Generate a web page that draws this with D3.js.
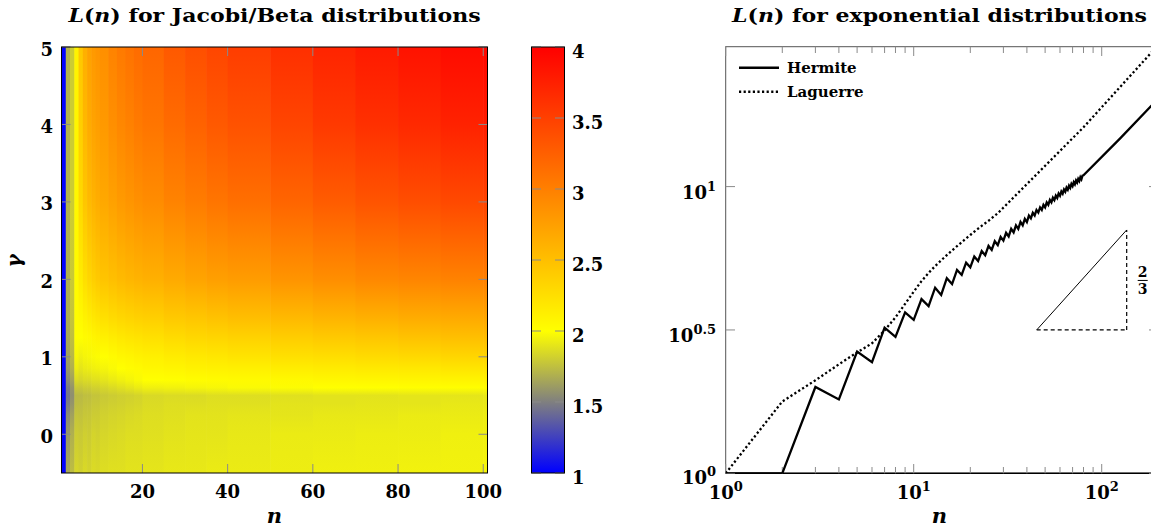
<!DOCTYPE html>
<html><head><meta charset="utf-8">
<script src="https://cdn.jsdelivr.net/npm/d3@7"></script>
<style>
body{margin:0;background:#fff}
svg{display:block}
text{font-family:"DejaVu Serif",serif;font-weight:bold;fill:#000}
</style>
</head><body>
<svg id="chart" width="1151" height="531"></svg>
<script>
// ---------- data: heatmap L(n) for Jacobi/Beta ----------
const heatN = [1,2,3,4,5,6,7,8,9,10,12,14,16,18,20,25,30,35,40,50,60,70,80,90,100];
const heatNEnd = 101;
const heatGamma = [-0.5,0,0.25,0.4,0.5,0.6,0.7,0.85,1,1.25,1.5,2,3,4,5];
const heatL = [
  [1,1,1,1,1,1,1,1,1,1,1,1,1,1,1],
  [1.66,1.6,1.54,1.48,1.46,1.48,1.54,1.6,1.63,1.66,1.68,1.69,1.7,1.7,1.7],
  [1.74,1.69,1.63,1.58,1.56,1.58,1.63,1.69,1.72,1.75,1.77,1.79,1.8,1.8,1.8],
  [1.84,1.8,1.77,1.74,1.73,1.79,1.86,1.93,1.97,2.0,2.02,2.04,2.06,2.08,2.1],
  [1.82,1.79,1.76,1.74,1.73,1.78,1.84,1.9,1.94,2.0,2.05,2.15,2.3,2.38,2.44],
  [1.85,1.81,1.78,1.76,1.75,1.8,1.86,1.92,1.96,2.03,2.1,2.25,2.45,2.56,2.63],
  [1.83,1.8,1.78,1.76,1.75,1.8,1.86,1.93,1.97,2.05,2.14,2.32,2.54,2.66,2.74],
  [1.86,1.83,1.8,1.78,1.77,1.82,1.88,1.94,1.98,2.08,2.18,2.38,2.6,2.72,2.8],
  [1.85,1.82,1.8,1.78,1.77,1.82,1.88,1.95,1.99,2.1,2.21,2.42,2.64,2.76,2.84],
  [1.87,1.84,1.82,1.8,1.79,1.84,1.9,1.96,2.0,2.12,2.24,2.46,2.68,2.8,2.88],
  [1.88,1.85,1.83,1.81,1.8,1.86,1.92,1.98,2.03,2.15,2.28,2.5,2.74,2.88,2.97],
  [1.88,1.86,1.84,1.82,1.81,1.88,1.94,2.0,2.06,2.18,2.31,2.54,2.79,2.94,3.04],
  [1.89,1.87,1.85,1.83,1.82,1.9,1.96,2.02,2.08,2.2,2.34,2.57,2.83,2.99,3.1],
  [1.89,1.87,1.86,1.84,1.83,1.92,1.98,2.04,2.1,2.22,2.36,2.6,2.87,3.04,3.15],
  [1.9,1.88,1.87,1.86,1.85,1.94,2.0,2.06,2.12,2.24,2.38,2.62,2.9,3.08,3.2],
  [1.91,1.89,1.88,1.87,1.86,1.95,2.01,2.08,2.15,2.28,2.42,2.67,2.97,3.16,3.3],
  [1.91,1.9,1.89,1.87,1.86,1.96,2.02,2.1,2.17,2.31,2.45,2.71,3.03,3.23,3.38],
  [1.92,1.9,1.89,1.88,1.87,1.97,2.03,2.11,2.19,2.33,2.48,2.75,3.08,3.3,3.45],
  [1.92,1.91,1.9,1.88,1.87,1.98,2.04,2.12,2.21,2.35,2.51,2.78,3.13,3.36,3.52],
  [1.93,1.92,1.9,1.89,1.88,1.99,2.05,2.14,2.24,2.39,2.55,2.84,3.21,3.46,3.63],
  [1.94,1.92,1.91,1.89,1.89,2.0,2.06,2.16,2.26,2.42,2.59,2.89,3.28,3.55,3.72],
  [1.94,1.93,1.91,1.9,1.89,2.0,2.07,2.17,2.28,2.45,2.62,2.93,3.34,3.62,3.8],
  [1.95,1.93,1.92,1.9,1.9,2.01,2.08,2.18,2.3,2.48,2.65,2.96,3.39,3.68,3.86],
  [1.95,1.94,1.92,1.91,1.9,2.01,2.09,2.2,2.32,2.5,2.67,2.98,3.43,3.73,3.91],
  [1.96,1.94,1.93,1.91,1.91,2.02,2.1,2.21,2.34,2.52,2.69,3.0,3.47,3.77,3.95]
];
const heatXTicks = [20,40,60,80,100];
const heatYTicks = [0,1,2,3,4,5];
const colorTicks = [1,1.5,2,2.5,3,3.5,4];
const colorStops = [1,2,4];
const colorStopColors = ["#0000ff","#ffff00","#ff0000"];

// ---------- data: L(n) for exponential distributions ----------
const hermiteN = [1,2,3,4,5,6,7,8,9,10,11,12,13,14,15,16,17,18,19,20,21,22,23,24,25,26,27,28,29,30,
  31,32,33,34,35,36,37,38,39,40,41,42,43,44,45,46,47,48,49,50,51,52,53,54,55,56,57,58,59,60,
  61,62,63,64,65,66,67,68,69,70,71,72,73,74,75,76,77,78,79,80,125,200];
const hermiteL = [1.0,1.0,2.0,1.81,2.66,2.44,3.22,2.99,3.64,3.43,4.05,3.83,4.44,4.19,4.79,4.57,5.12,4.92,5.43,5.23,
  5.70,5.50,5.96,5.76,6.21,6.01,6.45,6.25,6.68,6.48,6.90,6.70,7.12,6.92,7.32,7.12,7.53,7.33,7.72,7.52,
  7.92,7.75,8.10,7.93,8.29,8.12,8.46,8.29,8.64,8.47,8.81,8.64,8.98,8.81,9.14,8.97,9.30,9.13,9.46,9.29,
  9.62,9.45,9.77,9.60,9.92,9.75,10.07,9.90,10.22,10.05,10.36,10.19,10.50,10.33,10.64,10.47,10.78,10.61,10.92,10.95,14.7,20.3];
const laguerreN = [1,2,3,4,5,6,7,8,9,10,11,12,13,14,15,16,17,18,19,20,21,22,23,24,25,26,27,28,80,200];
const laguerreL = [1.0,1.78,2.11,2.4,2.64,2.84,3.15,3.5,3.9,4.3,4.68,5.0,5.28,5.53,5.77,5.99,6.2,6.4,6.6,6.78,
  6.96,7.13,7.3,7.45,7.6,7.76,7.92,8.07,16.1,31.2];
const seriesNames = ["Hermite","Laguerre"];
const logXMajor = [1,10,100];
const logXMinor = [2,3,4,5,6,7,8,9,20,30,40,50,60,70,80,90];
const logYTicks = [1,3.1623,10];
const logYTickExp = ["0","0.5","1"];
const slopeN = [45.1,135.8];
const slopeL = [3.1623,7.06];

const svg = d3.select("#chart");
const defs = svg.append("defs");
const TICK = "#8a8a8a";
const FS = 18;

function title(g, cx, parts){
  const t = g.append("text").attr("transform",`translate(${cx},22) scale(1.16,1)`)
    .attr("text-anchor","middle").attr("font-size",19);
  t.append("tspan").attr("font-style","italic").text("L");
  t.append("tspan").text("(");
  t.append("tspan").attr("font-style","italic").text("n");
  t.append("tspan").text(parts);
}

// ================= LEFT: heatmap =================
const hx = d3.scaleLinear().domain([1,101]).range([61.5,487.5]);
const hy = d3.scaleLinear().domain([-0.5,5]).range([473,47]);
const color = d3.scaleLinear().domain(colorStops).range(colorStopColors).interpolate(d3.interpolateRgb).clamp(true);

const gH = svg.append("g");
heatN.forEach((n,i)=>{
  const id = "col"+i;
  const grad = defs.append("linearGradient").attr("id",id)
    .attr("gradientUnits","userSpaceOnUse")
    .attr("x1",0).attr("x2",0).attr("y1",hy(-0.5)).attr("y2",hy(5));
  heatGamma.forEach((g,j)=>{
    grad.append("stop").attr("offset",(hy(g)-hy(-0.5))/(hy(5)-hy(-0.5)))
      .attr("stop-color",color(heatL[i][j]));
  });
  const nNext = i<heatN.length-1 ? heatN[i+1] : heatNEnd;
  gH.append("rect")
    .attr("x",hx(n)).attr("y",hy(5))
    .attr("width",hx(nNext)-hx(n)+(i<heatN.length-1?0.6:0))
    .attr("height",hy(-0.5)-hy(5))
    .attr("fill","url(#"+id+")");
});
heatXTicks.forEach(t=>{
  gH.append("line").attr("x1",hx(t)).attr("x2",hx(t)).attr("y1",473).attr("y2",464).attr("stroke",TICK);
  gH.append("line").attr("x1",hx(t)).attr("x2",hx(t)).attr("y1",47).attr("y2",56).attr("stroke",TICK);
  gH.append("text").attr("x",hx(t)).attr("y",497.5).attr("text-anchor","middle").attr("font-size",FS).text(t);
});
heatYTicks.forEach(t=>{
  gH.append("line").attr("x1",61.5).attr("x2",70.5).attr("y1",hy(t)).attr("y2",hy(t)).attr("stroke",TICK);
  gH.append("line").attr("x1",487.5).attr("x2",478.5).attr("y1",hy(t)).attr("y2",hy(t)).attr("stroke",TICK);
  gH.append("text").attr("x",53).attr("y",hy(t)+8.5).attr("text-anchor","end").attr("font-size",FS).text(t);
});
gH.append("rect").attr("x",61.5).attr("y",47).attr("width",426).attr("height",426)
  .attr("fill","none").attr("stroke","#000").attr("stroke-width",1);
gH.append("text").attr("x",274.5).attr("y",523).attr("text-anchor","middle")
  .attr("font-size",21).attr("font-style","italic").text("n");
gH.append("text").attr("transform","translate(21,261) rotate(-90)").attr("text-anchor","middle")
  .attr("font-size",20).attr("font-style","italic").attr("font-weight","normal").text("γ");
title(gH, 274.5, ") for Jacobi/Beta distributions");

// colorbar
const cy = d3.scaleLinear().domain([1,4]).range([473,47]);
const cbGrad = defs.append("linearGradient").attr("id","cbar").attr("gradientUnits","userSpaceOnUse")
  .attr("x1",0).attr("x2",0).attr("y1",cy(1)).attr("y2",cy(4));
colorStops.forEach((v,i)=>cbGrad.append("stop").attr("offset",(v-1)/3).attr("stop-color",colorStopColors[i]));
const gC = svg.append("g");
gC.append("rect").attr("x",531.5).attr("y",47).attr("width",33).attr("height",426).attr("fill","url(#cbar)");
colorTicks.forEach(t=>{
  gC.append("line").attr("x1",531.5).attr("x2",541).attr("y1",cy(t)).attr("y2",cy(t)).attr("stroke",TICK);
  gC.append("line").attr("x1",564.5).attr("x2",555).attr("y1",cy(t)).attr("y2",cy(t)).attr("stroke",TICK);
  gC.append("text").attr("x",572).attr("y",cy(t)+10.5).attr("font-size",FS).text(t);
});
gC.append("rect").attr("x",531.5).attr("y",47).attr("width",33).attr("height",426)
  .attr("fill","none").attr("stroke","#000");

// ================= RIGHT: log-log lines =================
const rx = d3.scaleLog().domain([1,200]).range([725.7,1158.3]);
const ry = d3.scaleLog().domain([1,30.76]).range([473.3,46.7]);
const gR = svg.append("g");
defs.append("clipPath").attr("id","rclip").append("rect")
  .attr("x",725.7).attr("y",46.7).attr("width",432.6).attr("height",426.6);

gR.append("rect").attr("x",725.7).attr("y",46.7).attr("width",432.6).attr("height",426.6)
  .attr("fill","none").attr("stroke","#555").attr("stroke-width",1);
gR.append("line").attr("x1",725.7).attr("x2",1158.3).attr("y1",473.3).attr("y2",473.3).attr("stroke","#000").attr("stroke-width",1.5);
logXMajor.forEach(t=>{
  gR.append("line").attr("x1",rx(t)).attr("x2",rx(t)).attr("y1",473.3).attr("y2",464).attr("stroke",TICK);
  gR.append("line").attr("x1",rx(t)).attr("x2",rx(t)).attr("y1",46.7).attr("y2",56).attr("stroke",TICK);
  const e = Math.round(Math.log10(t));
  const tx = gR.append("text").attr("x",rx(t)).attr("y",498.5).attr("text-anchor","middle").attr("font-size",FS);
  tx.append("tspan").text("10");
  tx.append("tspan").attr("font-size",13).attr("dy",-8).text(e);
});
logXMinor.forEach(t=>{
  gR.append("line").attr("x1",rx(t)).attr("x2",rx(t)).attr("y1",473.3).attr("y2",467).attr("stroke",TICK);
  gR.append("line").attr("x1",rx(t)).attr("x2",rx(t)).attr("y1",46.7).attr("y2",53).attr("stroke",TICK);
});
logYTicks.forEach((t,i)=>{
  gR.append("line").attr("x1",725.7).attr("x2",735).attr("y1",ry(t)).attr("y2",ry(t)).attr("stroke",TICK);
  gR.append("line").attr("x1",1158.3).attr("x2",1149).attr("y1",ry(t)).attr("y2",ry(t)).attr("stroke",TICK);
  const yy = i===0 ? ry(t)+10.5 : ry(t)+12.5;
  const tx = gR.append("text").attr("x",716).attr("y",yy).attr("text-anchor","end").attr("font-size",FS);
  tx.append("tspan").text("10");
  tx.append("tspan").attr("font-size",13).attr("dy",-8).text(logYTickExp[i]);
});
gR.append("text").attr("x",939.5).attr("y",523).attr("text-anchor","middle")
  .attr("font-size",21).attr("font-style","italic").text("n");
title(gR, 939.5, ") for exponential distributions");

const line = d3.line().x(d=>rx(d[0])).y(d=>ry(d[1]));
const plot = gR.append("g").attr("clip-path","url(#rclip)");
plot.append("path").datum(laguerreN.map((n,i)=>[n,laguerreL[i]]))
  .attr("d",line).attr("fill","none").attr("stroke","#000").attr("stroke-width",2.3)
  .attr("stroke-dasharray","2.2,2.4");
plot.append("path").datum(hermiteN.map((n,i)=>[n,hermiteL[i]]))
  .attr("d",line).attr("fill","none").attr("stroke","#000").attr("stroke-width",2.3)
  .attr("stroke-linejoin","miter");

plot.append("line").attr("x1",rx(slopeN[0])).attr("y1",ry(slopeL[0])).attr("x2",rx(slopeN[1])).attr("y2",ry(slopeL[1]))
  .attr("stroke","#000").attr("stroke-width",1);
plot.append("line").attr("x1",rx(slopeN[0])).attr("y1",ry(slopeL[0])).attr("x2",rx(slopeN[1])).attr("y2",ry(slopeL[0]))
  .attr("stroke","#000").attr("stroke-width",1.2).attr("stroke-dasharray","4,3");
plot.append("line").attr("x1",rx(slopeN[1])).attr("y1",ry(slopeL[0])).attr("x2",rx(slopeN[1])).attr("y2",ry(slopeL[1]))
  .attr("stroke","#000").attr("stroke-width",1.2).attr("stroke-dasharray","4,3");
const fx = rx(slopeN[1])+16, fy = (ry(slopeL[0])+ry(slopeL[1]))/2;
gR.append("text").attr("x",fx).attr("y",fy-3).attr("text-anchor","middle").attr("font-size",14).text("2");
gR.append("line").attr("x1",fx-5).attr("x2",fx+5).attr("y1",fy+0.5).attr("y2",fy+0.5).attr("stroke","#000").attr("stroke-width",1);
gR.append("text").attr("x",fx).attr("y",fy+14.5).attr("text-anchor","middle").attr("font-size",14).text("3");

const leg = gR.append("g");
seriesNames.forEach((s,i)=>{
  const y = 67.7 + i*24;
  leg.append("line").attr("x1",739).attr("x2",779).attr("y1",y).attr("y2",y)
    .attr("stroke","#000").attr("stroke-width",2.5)
    .attr("stroke-dasharray", i===1 ? "2.2,2.4" : null);
  leg.append("text").attr("x",787).attr("y",y+5).attr("font-size",15).text(s);
});
</script>
</body></html>
